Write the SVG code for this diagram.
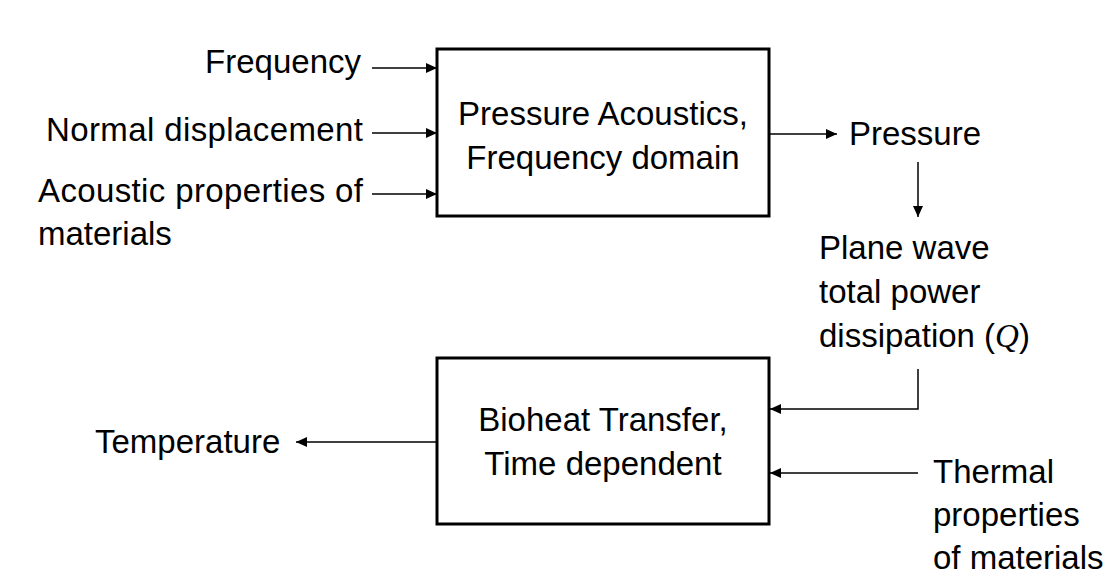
<svg xmlns="http://www.w3.org/2000/svg" width="1115" height="577" viewBox="0 0 1115 577">
<style>
text{font-family:"Liberation Sans",Arial,sans-serif;font-size:33px;fill:#000}
.box{fill:#fff;stroke:#000;stroke-width:3}
.c{fill:none;stroke:#000;stroke-width:1.5}
.q{font-family:"Liberation Serif","Times New Roman",serif;font-style:italic}
</style>
<defs>
<marker id="ah" markerUnits="userSpaceOnUse" markerWidth="12" markerHeight="10" refX="11" refY="5" orient="auto">
<path d="M0,0 L11,5 L0,10 z" fill="#000"/>
</marker>
</defs>
<rect width="1115" height="577" fill="#fff"/>
<g id="connectors">
<line class="c" x1="372" y1="68" x2="437" y2="68" marker-end="url(#ah)"/>
<line class="c" x1="372" y1="133" x2="437" y2="133" marker-end="url(#ah)"/>
<line class="c" x1="372" y1="194" x2="437" y2="194" marker-end="url(#ah)"/>
<line class="c" x1="769" y1="134" x2="837" y2="134" marker-end="url(#ah)"/>
<line class="c" x1="918" y1="162" x2="918" y2="217" marker-end="url(#ah)"/>
<polyline class="c" points="918,369 918,409 770,409" marker-end="url(#ah)"/>
<line class="c" x1="918" y1="473" x2="770" y2="473" marker-end="url(#ah)"/>
<line class="c" x1="437" y1="442" x2="296" y2="442" marker-end="url(#ah)"/>
</g>
<g id="pressure-acoustics">
<rect class="box" x="437" y="49" width="332" height="167"/>
<text x="603" y="125" text-anchor="middle">Pressure Acoustics,</text>
<text x="603" y="169" text-anchor="middle">Frequency domain</text>
</g>
<g id="bioheat">
<rect class="box" x="437" y="358" width="332" height="166"/>
<text x="603" y="431" text-anchor="middle">Bioheat Transfer,</text>
<text x="603" y="475" text-anchor="middle">Time dependent</text>
</g>
<g id="frequency"><text x="361" y="73" text-anchor="end">Frequency</text></g>
<g id="normal-displacement"><text x="46" y="141" textLength="317">Normal displacement</text></g>
<g id="acoustic-properties">
<text x="38" y="202" textLength="325">Acoustic properties of</text>
<text x="38" y="245">materials</text>
</g>
<g id="pressure"><text x="849" y="145">Pressure</text></g>
<g id="power-dissipation">
<text x="819" y="259">Plane wave</text>
<text x="819" y="303">total power</text>
<text x="819" y="347">dissipation (<tspan class="q">Q</tspan>)</text>
</g>
<g id="temperature"><text x="95" y="453">Temperature</text></g>
<g id="thermal-properties">
<text x="933" y="483">Thermal</text>
<text x="933" y="526">properties</text>
<text x="933" y="569">of materials</text>
</g>
</svg>
